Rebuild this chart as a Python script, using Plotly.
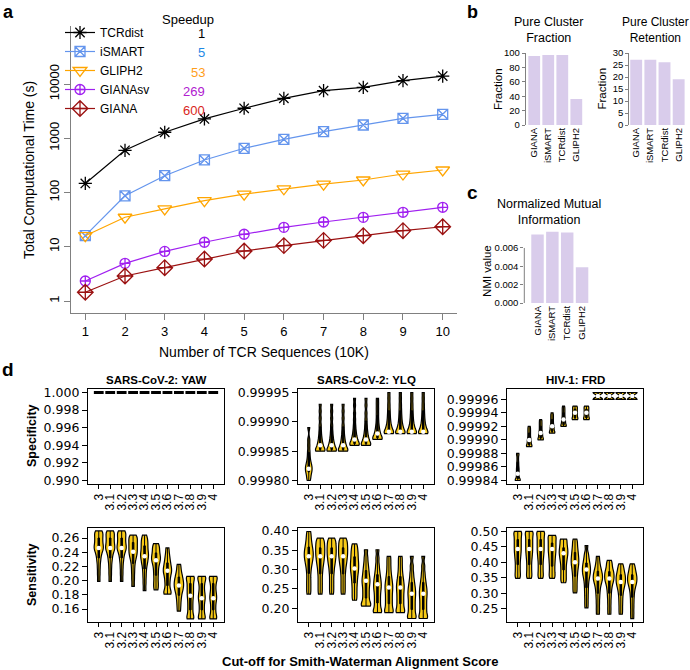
import plotly.graph_objects as go

W, H = 690, 670
FONT = "Liberation Sans, Arial, Helvetica, sans-serif"
WIDE_FONT = "DejaVu Sans, Liberation Sans, sans-serif"

# ---------------- panel a: computational time ----------------
n_seq = [1, 2, 3, 4, 5, 6, 7, 8, 9, 10]
tcrdist_time = [147, 600, 1290, 2270, 3570, 5450, 7530, 8690, 11500, 14000]
ismart_time = [16, 87, 204, 398, 653, 956, 1320, 1755, 2330, 2760]
gliph2_time = [16, 35, 50, 71, 93, 117, 143, 170, 219, 260]
gianasv_time = [2.34, 4.95, 8.2, 12.1, 17.0, 22.8, 28.6, 34.9, 43.2, 53.4]
giana_time = [1.45, 2.89, 4.11, 5.94, 8.35, 10.5, 13.1, 16.0, 19.8, 23.4]
methods_a = ["TCRdist", "iSMART", "GLIPH2", "GIANAsv", "GIANA"]
speedup = ["1", "5", "53", "269", "600"]

# ---------------- panels b, c: cluster quality ----------------
methods_b = ["GIANA", "iSMART", "TCRdist", "GLIPH2"]
pure_fraction = [95.8, 97.2, 97.2, 36.1]
pure_retention = [27.2, 27.2, 26.1, 19.1]
nmi_value = [0.00746, 0.00778, 0.00770, 0.00389]

# ---------------- panel d: specificity / sensitivity ----------------
cutoffs = ["3", "3.1", "3.2", "3.3", "3.4", "3.5", "3.6", "3.7", "3.8", "3.9", "4"]

yaw_specificity = [1.000, 1.000, 1.000, 1.000, 1.000, 1.000, 1.000, 1.000, 1.000, 1.000, 1.000]

ylq_spec_samples = [
    [0.99980, 0.999805, 0.99981, 0.999814, 0.999817, 0.99982, 0.999823, 0.999826, 0.99983, 0.999835, 0.999842, 0.99985, 0.99986, 0.99987, 0.99989],
    [0.99985, 0.99985, 0.99985, 0.999852, 0.999855, 0.999858, 0.999861, 0.999865, 0.99987, 0.999876, 0.999884, 0.999894, 0.999906, 0.999918, 0.99993],
    [0.99985, 0.99985, 0.99985, 0.999852, 0.999855, 0.999858, 0.999861, 0.999865, 0.99987, 0.999876, 0.999884, 0.999894, 0.999906, 0.999918, 0.99993],
    [0.99985, 0.99985, 0.99985, 0.999852, 0.999855, 0.999858, 0.999861, 0.999865, 0.99987, 0.999876, 0.999884, 0.999894, 0.999906, 0.999918, 0.99993],
    [0.99986, 0.99986, 0.99986, 0.999862, 0.999865, 0.999868, 0.999871, 0.999875, 0.99988, 0.999886, 0.999894, 0.999904, 0.999915, 0.999928, 0.99994],
    [0.99986, 0.99986, 0.99986, 0.999862, 0.999865, 0.999868, 0.999871, 0.999875, 0.99988, 0.999886, 0.999894, 0.999904, 0.999915, 0.999928, 0.99994],
    [0.99987, 0.99987, 0.99987, 0.999872, 0.999875, 0.999878, 0.999881, 0.999885, 0.99989, 0.999896, 0.999904, 0.999913, 0.999922, 0.999931, 0.99994],
    [0.99988, 0.99988, 0.99988, 0.999882, 0.999885, 0.999888, 0.999891, 0.999895, 0.9999, 0.999906, 0.999913, 0.999921, 0.99993, 0.99994, 0.99995],
    [0.99988, 0.99988, 0.99988, 0.999882, 0.999885, 0.999888, 0.999891, 0.999895, 0.9999, 0.999906, 0.999913, 0.999921, 0.99993, 0.99994, 0.99995],
    [0.99988, 0.99988, 0.99988, 0.999882, 0.999885, 0.999888, 0.999891, 0.999895, 0.9999, 0.999906, 0.999913, 0.999921, 0.99993, 0.99994, 0.99995],
    [0.99988, 0.99988, 0.99988, 0.999882, 0.999885, 0.999888, 0.999891, 0.999895, 0.9999, 0.999906, 0.999913, 0.999921, 0.99993, 0.99994, 0.99995],
]
ylq_spec_median = [0.99982, 0.99986, 0.99986, 0.99986, 0.99987, 0.99987, 0.99988, 0.999883, 0.999883, 0.999883, 0.999883]

frd_spec_samples = [
    [0.99984, 0.99984, 0.99984, 0.999842, 0.999845, 0.999848, 0.999851, 0.999854, 0.999857, 0.99986, 0.999864, 0.999868, 0.999873, 0.999878, 0.99988],
    [0.99989, 0.99989, 0.99989, 0.999892, 0.999894, 0.999896, 0.999898, 0.9999, 0.999902, 0.999905, 0.999908, 0.999911, 0.999914, 0.999917, 0.99992],
    [0.99990, 0.99990, 0.99990, 0.999902, 0.999904, 0.999906, 0.999908, 0.99991, 0.999912, 0.999915, 0.999918, 0.999921, 0.999924, 0.999927, 0.99993],
    [0.99991, 0.99991, 0.99991, 0.999912, 0.999914, 0.999916, 0.999918, 0.99992, 0.999922, 0.999925, 0.999928, 0.999931, 0.999934, 0.999937, 0.99994],
    [0.99992, 0.99992, 0.99992, 0.999922, 0.999924, 0.999926, 0.999928, 0.99993, 0.999932, 0.999935, 0.999938, 0.999941, 0.999944, 0.999947, 0.99995],
    [0.99993, 0.99993, 0.999931, 0.999933, 0.999935, 0.999937, 0.999939, 0.999941, 0.999943, 0.999945, 0.999947, 0.999949, 0.99995],
    [0.99993, 0.99993, 0.999931, 0.999933, 0.999935, 0.999937, 0.999939, 0.999941, 0.999943, 0.999945, 0.999947, 0.999949, 0.99995],
    [0.99996, 0.99996, 0.99996, 0.99997, 0.99997, 0.99997],
    [0.99996, 0.99996, 0.99996, 0.99997, 0.99997, 0.99997],
    [0.99996, 0.99996, 0.99996, 0.99997, 0.99997, 0.99997],
    [0.99996, 0.99996, 0.99996, 0.99997, 0.99997, 0.99997],
]
frd_spec_median = [0.99985, 0.9999, 0.99991, 0.99992, 0.99993, 0.99994, 0.99994, 0.999965, 0.999965, 0.999965, 0.999965]

yaw_sens_samples = [
    [0.199, 0.209, 0.218, 0.226, 0.232, 0.237, 0.241, 0.244, 0.246, 0.248, 0.251, 0.254, 0.257, 0.26, 0.263, 0.266, 0.269, 0.27],
    [0.199, 0.209, 0.218, 0.226, 0.232, 0.237, 0.241, 0.244, 0.246, 0.248, 0.251, 0.254, 0.257, 0.26, 0.263, 0.266, 0.269, 0.27],
    [0.199, 0.209, 0.218, 0.226, 0.232, 0.237, 0.241, 0.244, 0.246, 0.248, 0.251, 0.254, 0.257, 0.26, 0.263, 0.266, 0.269, 0.27],
    [0.192, 0.202, 0.211, 0.219, 0.226, 0.231, 0.235, 0.238, 0.241, 0.244, 0.247, 0.25, 0.253, 0.256, 0.259, 0.262, 0.264],
    [0.186, 0.196, 0.205, 0.213, 0.22, 0.225, 0.229, 0.233, 0.236, 0.239, 0.243, 0.247, 0.251, 0.255, 0.259, 0.264],
    [0.187, 0.193, 0.199, 0.206, 0.212, 0.218, 0.223, 0.227, 0.23, 0.233, 0.236, 0.24, 0.244, 0.248, 0.252],
    [0.181, 0.181, 0.185, 0.19, 0.196, 0.201, 0.206, 0.21, 0.213, 0.216, 0.219, 0.223, 0.227, 0.232, 0.238, 0.246],
    [0.157, 0.165, 0.172, 0.178, 0.183, 0.187, 0.19, 0.193, 0.196, 0.199, 0.202, 0.206, 0.21, 0.216, 0.223],
    [0.146, 0.146, 0.15, 0.155, 0.16, 0.165, 0.17, 0.175, 0.179, 0.183, 0.187, 0.191, 0.195, 0.199, 0.203, 0.206, 0.206],
    [0.146, 0.146, 0.15, 0.155, 0.16, 0.165, 0.17, 0.174, 0.177, 0.181, 0.185, 0.19, 0.195, 0.199, 0.203, 0.206, 0.206],
    [0.146, 0.146, 0.15, 0.155, 0.16, 0.165, 0.17, 0.174, 0.177, 0.181, 0.185, 0.19, 0.195, 0.199, 0.203, 0.206, 0.206],
]
yaw_sens_median = [0.246, 0.246, 0.246, 0.2405, 0.2344, 0.2288, 0.214, 0.193, 0.1786, 0.1753, 0.1753]

ylq_sens_samples = [
    [0.237, 0.25, 0.263, 0.276, 0.29, 0.302, 0.312, 0.32, 0.327, 0.333, 0.339, 0.345, 0.351, 0.358, 0.366, 0.375, 0.386, 0.398],
    [0.237, 0.25, 0.263, 0.276, 0.289, 0.3, 0.31, 0.318, 0.325, 0.332, 0.338, 0.344, 0.35, 0.356, 0.362, 0.368, 0.375, 0.381],
    [0.237, 0.25, 0.263, 0.276, 0.289, 0.3, 0.31, 0.318, 0.325, 0.332, 0.338, 0.344, 0.35, 0.356, 0.362, 0.368, 0.375, 0.381],
    [0.237, 0.25, 0.263, 0.276, 0.289, 0.3, 0.31, 0.318, 0.325, 0.332, 0.338, 0.344, 0.35, 0.356, 0.362, 0.368, 0.375, 0.381],
    [0.221, 0.233, 0.245, 0.257, 0.268, 0.278, 0.287, 0.295, 0.302, 0.309, 0.316, 0.323, 0.331, 0.339, 0.347, 0.356, 0.366],
    [0.206, 0.206, 0.212, 0.22, 0.229, 0.238, 0.247, 0.256, 0.264, 0.271, 0.278, 0.286, 0.295, 0.305, 0.317, 0.332, 0.351],
    [0.189, 0.189, 0.196, 0.205, 0.214, 0.223, 0.232, 0.241, 0.249, 0.256, 0.263, 0.27, 0.278, 0.287, 0.298, 0.312, 0.33, 0.351],
    [0.189, 0.189, 0.196, 0.204, 0.212, 0.22, 0.228, 0.236, 0.244, 0.251, 0.258, 0.265, 0.273, 0.282, 0.293, 0.306, 0.32, 0.334],
    [0.189, 0.189, 0.196, 0.204, 0.212, 0.22, 0.228, 0.236, 0.244, 0.251, 0.258, 0.265, 0.273, 0.282, 0.293, 0.306, 0.32, 0.334],
    [0.174, 0.174, 0.181, 0.189, 0.197, 0.205, 0.213, 0.221, 0.229, 0.236, 0.243, 0.25, 0.258, 0.267, 0.278, 0.292, 0.31, 0.334],
    [0.174, 0.174, 0.181, 0.189, 0.197, 0.205, 0.213, 0.221, 0.229, 0.236, 0.243, 0.25, 0.258, 0.267, 0.278, 0.292, 0.31, 0.334],
]
ylq_sens_median = [0.334, 0.334, 0.334, 0.334, 0.303, 0.271, 0.262, 0.254, 0.254, 0.238, 0.238]

frd_sens_samples = [
    [0.348, 0.356, 0.365, 0.375, 0.385, 0.395, 0.405, 0.414, 0.422, 0.43, 0.437, 0.444, 0.451, 0.458, 0.465, 0.472, 0.479, 0.486, 0.493, 0.5, 0.5],
    [0.348, 0.356, 0.365, 0.375, 0.385, 0.395, 0.405, 0.414, 0.422, 0.43, 0.437, 0.444, 0.451, 0.458, 0.465, 0.472, 0.479, 0.486, 0.493, 0.5, 0.5],
    [0.348, 0.356, 0.365, 0.375, 0.385, 0.395, 0.405, 0.414, 0.422, 0.43, 0.437, 0.444, 0.451, 0.458, 0.465, 0.472, 0.479, 0.486, 0.493, 0.5, 0.5],
    [0.348, 0.356, 0.365, 0.375, 0.385, 0.395, 0.404, 0.413, 0.421, 0.429, 0.436, 0.443, 0.45, 0.457, 0.464, 0.471, 0.478, 0.487, 0.487],
    [0.334, 0.343, 0.353, 0.363, 0.373, 0.383, 0.393, 0.402, 0.41, 0.417, 0.424, 0.43, 0.436, 0.442, 0.449, 0.456, 0.463, 0.475, 0.475],
    [0.301, 0.314, 0.327, 0.34, 0.352, 0.363, 0.373, 0.382, 0.39, 0.397, 0.404, 0.411, 0.418, 0.426, 0.434, 0.443, 0.453, 0.464, 0.475],
    [0.253, 0.27, 0.287, 0.303, 0.318, 0.332, 0.344, 0.354, 0.362, 0.369, 0.376, 0.383, 0.39, 0.398, 0.407, 0.418, 0.431, 0.454],
    [0.232, 0.25, 0.268, 0.285, 0.3, 0.313, 0.324, 0.333, 0.34, 0.346, 0.352, 0.358, 0.364, 0.371, 0.379, 0.389, 0.402, 0.419],
    [0.232, 0.25, 0.268, 0.285, 0.3, 0.313, 0.324, 0.333, 0.34, 0.346, 0.352, 0.358, 0.364, 0.37, 0.377, 0.386, 0.396, 0.406],
    [0.232, 0.248, 0.264, 0.279, 0.293, 0.305, 0.315, 0.323, 0.33, 0.336, 0.342, 0.348, 0.354, 0.36, 0.367, 0.375, 0.384, 0.395],
    [0.218, 0.236, 0.254, 0.271, 0.287, 0.301, 0.313, 0.322, 0.33, 0.336, 0.342, 0.348, 0.354, 0.36, 0.367, 0.375, 0.384, 0.395],
]
frd_sens_median = [0.443, 0.443, 0.443, 0.443, 0.4293, 0.40, 0.3766, 0.348, 0.348, 0.3365, 0.3365]

spec_ticks = [
    [0.990, 0.992, 0.994, 0.996, 0.998, 1.000],
    [0.99980, 0.99985, 0.99990, 0.99995],
    [0.99984, 0.99986, 0.99988, 0.99990, 0.99992, 0.99994, 0.99996],
]
sens_ticks = [
    [0.16, 0.18, 0.20, 0.22, 0.24, 0.26],
    [0.20, 0.25, 0.30, 0.35, 0.40],
    [0.25, 0.30, 0.35, 0.40, 0.45, 0.50],
]


def dom_x(a, b):
    return [a / W, b / W]


def dom_y(top, bottom):
    return [1 - bottom / H, 1 - top / H]


fig = go.Figure()

# ---- a: lines with open markers ----
a_series = [tcrdist_time, ismart_time, gliph2_time, gianasv_time, giana_time]
a_colors = ["#000000", "#6495ED", "#FFA500", "#A020F0", "#9B1111"]
a_symbols = ["asterisk-open", "square-x-open", "triangle-down-open", "circle-cross-open", "diamond-cross-open"]
a_sizes = [11, 10, 12, 10, 12]
for name, ys, col, sym, sz in zip(methods_a, a_series, a_colors, a_symbols, a_sizes):
    fig.add_trace(go.Scatter(
        x=n_seq, y=ys, name=name, mode="lines+markers",
        line=dict(color=col, width=1.2),
        marker=dict(symbol=sym, size=sz, color=col, line=dict(color=col, width=1.3)),
        xaxis="x", yaxis="y"))

# ---- b, c: bars ----
bar_col = "#D9CCEB"
for vals, xa, ya in [(pure_fraction, "x2", "y2"), (pure_retention, "x3", "y3"), (nmi_value, "x4", "y4")]:
    fig.add_trace(go.Bar(x=methods_b, y=vals, width=0.84, marker=dict(color=bar_col, line=dict(width=0)),
                         xaxis=xa, yaxis=ya, showlegend=False))

# ---- d: violins ----
gold = "#F7CA18"


def add_violins(samples, medians, xa, ya, bw):
    xs, ys = [], []
    for cat, vals in zip(cutoffs, samples):
        xs += [cat] * len(vals)
        ys += vals
    fig.add_trace(go.Violin(
        x=xs, y=ys, xaxis=xa, yaxis=ya, bandwidth=bw, spanmode="hard", scalemode="width",
        width=0.82, fillcolor=gold, line=dict(color="black", width=1.2), points=False,
        box=dict(visible=True, width=0.16, fillcolor="black", line=dict(color="black", width=1)),
        meanline=dict(visible=False), showlegend=False, hoverinfo="skip"))
    fig.add_trace(go.Scatter(x=cutoffs, y=medians, mode="markers", xaxis=xa, yaxis=ya,
                             marker=dict(color="white", size=4.5), showlegend=False))


fig.add_trace(go.Scatter(x=cutoffs, y=yaw_specificity, mode="markers", xaxis="x5", yaxis="y5",
                         marker=dict(symbol="line-ew", size=7, line=dict(color="black", width=3)),
                         showlegend=False))
add_violins(ylq_spec_samples, ylq_spec_median, "x6", "y6", 0.0000045)
add_violins(frd_spec_samples, frd_spec_median, "x7", "y7", 0.0000025)
add_violins(yaw_sens_samples, yaw_sens_median, "x8", "y8", 0.0045)
add_violins(ylq_sens_samples, ylq_sens_median, "x9", "y9", 0.008)
add_violins(frd_sens_samples, frd_sens_median, "x10", "y10", 0.009)

grey = "#808080"
layout = dict(
    width=W, height=H, margin=dict(l=0, r=0, t=0, b=0, autoexpand=False),
    paper_bgcolor="white", plot_bgcolor="white",
    font=dict(family=FONT, color="black", size=12),
    violinmode="overlay", barmode="overlay",
    legend=dict(x=60 / W, y=1 - 18 / H, xanchor="left", yanchor="top", bgcolor="rgba(0,0,0,0)",
                font=dict(size=12), tracegroupgap=0),
)

layout["xaxis"] = dict(domain=dom_x(71, 457), range=[0.64, 10.36], tickvals=n_seq, showline=True,
                       linecolor=grey, ticks="outside", ticklen=6, tickcolor=grey, tickfont=dict(size=13),
                       showgrid=False, zeroline=False, anchor="y")
layout["yaxis"] = dict(domain=dom_y(26, 313), type="log", range=[-0.221, 5.069],
                       tickvals=[1, 10, 100, 1000, 10000], ticktext=["1", "10", "100", "1000", "10000"],
                       tickangle=-90, showline=True, linecolor=grey, ticks="outside", ticklen=6,
                       tickcolor=grey, tickfont=dict(size=13), showgrid=False, zeroline=False, anchor="x")

bar_axes = [
    ("2", dom_x(525.7, 586), [-0.607, 3.69], dom_y(53, 125), [0, 100], [0, 20, 40, 60, 80, 100], None, True),
    ("3", dom_x(629.3, 689), [-0.487, 3.73], dom_y(53, 125), [0, 30], [0, 5, 10, 15, 20, 25, 30], None, True),
    ("4", dom_x(524.3, 592), [-0.89, 3.67], dom_y(229, 303), [0, 0.00807], [0, 0.002, 0.004, 0.006], ".3f", False),
]
for k, xd, xr, yd, yr, tv, fmt, line in bar_axes:
    layout["xaxis" + k] = dict(domain=xd, range=xr, type="category", tickangle=-90, tickfont=dict(size=9.5),
                               showline=False, ticks="", showgrid=False, zeroline=False, anchor="y" + k)
    layout["yaxis" + k] = dict(domain=yd, range=yr, tickvals=tv, tickformat=fmt, showline=line,
                               linecolor=grey, ticks="outside", ticklen=3, tickcolor=grey,
                               tickfont=dict(size=9.5), showgrid=False, zeroline=False, anchor="x" + k)

cols = [dom_x(88, 224), dom_x(298, 434), dom_x(507, 643)]
rows = [dom_y(389, 484), dom_y(528, 622)]
spec_ranges = [[0.9896, 1.0004], [0.999794, 0.999956], [0.9998348, 0.9999752]]
sens_ranges = [[0.1417, 0.2741], [0.165, 0.407], [0.207, 0.511]]
spec_fmt = [".3f", ".5f", ".5f"]
for i in range(3):
    for r, (rng, tv, fmt) in enumerate([(spec_ranges[i], spec_ticks[i], spec_fmt[i]),
                                        (sens_ranges[i], sens_ticks[i], ".2f")]):
        k = str(5 + i + 3 * r)
        layout["xaxis" + k] = dict(domain=cols[i], type="category", categoryorder="array",
                                   categoryarray=cutoffs, tickmode="array", tickvals=cutoffs,
                                   ticktext=cutoffs, range=[-0.94, 10.94], tickangle=-90,
                                   tickfont=dict(size=12), showline=True, mirror=True,
                                   linecolor="black", linewidth=1.2, ticks="outside", ticklen=4,
                                   tickcolor="black", showgrid=False, zeroline=False, anchor="y" + k)
        layout["yaxis" + k] = dict(domain=rows[r], range=rng, tickvals=tv, tickformat=fmt,
                                   showline=True, mirror=True, linecolor="black", linewidth=1.2,
                                   ticks="outside", ticklen=5, tickcolor="black",
                                   tickfont=dict(size=12.5, family=WIDE_FONT),
                                   showgrid=False, zeroline=False, anchor="x" + k)

fig.update_layout(**layout)

# axis line of panel c only spans the labelled ticks
fig.add_shape(type="line", xref="x4 domain", yref="y4", x0=0, x1=0, y0=0, y1=0.006,
              line=dict(color=grey, width=1))


def note(text, x, y, size=12, angle=0, xanchor="center", color="black", yanchor="middle"):
    fig.add_annotation(text=text, x=x / W, y=1 - y / H, xref="paper", yref="paper", showarrow=False,
                       font=dict(size=size, color=color), textangle=angle, xanchor=xanchor, yanchor=yanchor)


# panel letters
note("<b>a</b>", 8, 0, 18, yanchor="top")
note("<b>b</b>", 472, 0, 18, yanchor="top")
note("<b>c</b>", 472, 192, 19)
note("<b>d</b>", 8, 369, 19)

# panel a texts
note("Total Computational Time (s)", 29, 170, 14, -90)
note("Number of TCR Sequences (10K)", 264, 352, 14)
note("Speedup", 188, 20, 13)
speed_cols = ["#000000", "#1E88E5", "#FF9E1B", "#B020D0", "#D9261C"]
for i, (s, c) in enumerate(zip(speedup, speed_cols)):
    note(s, 207, 34 + 19 * i, 13, xanchor="right", color=c)

# panel b, c texts
note("Pure Cluster<br>Fraction", 548, 30, 12.5)
note("Pure Cluster<br>Retention", 655, 30, 12)
note("Normalized Mutual<br>Information", 548.5, 211.5, 12.5)
note("Fraction", 498, 89, 11.5, -90)
note("Fraction", 601.5, 89, 11.5, -90)
note("NMI value", 487, 271, 11.5, -90)

# panel d texts
note("<b>SARS-CoV-2: YAW</b>", 156, 380, 11.5)
note("<b>SARS-CoV-2: YLQ</b>", 366, 380, 11.5)
note("<b>HIV-1: FRD</b>", 575, 380, 11.5)
note("<b>Specificity</b>", 32, 436, 12.5, -90)
note("<b>Sensitivity</b>", 32, 575, 12.5, -90)
note("<b>Cut-off for Smith-Waterman Alignment Score</b>", 360, 661, 13)

# the page's default body margin would shift the 690x670 figure
fig.write_html("out.html", config={"displayModeBar": False},
               post_script="document.body.style.margin='0px';")
